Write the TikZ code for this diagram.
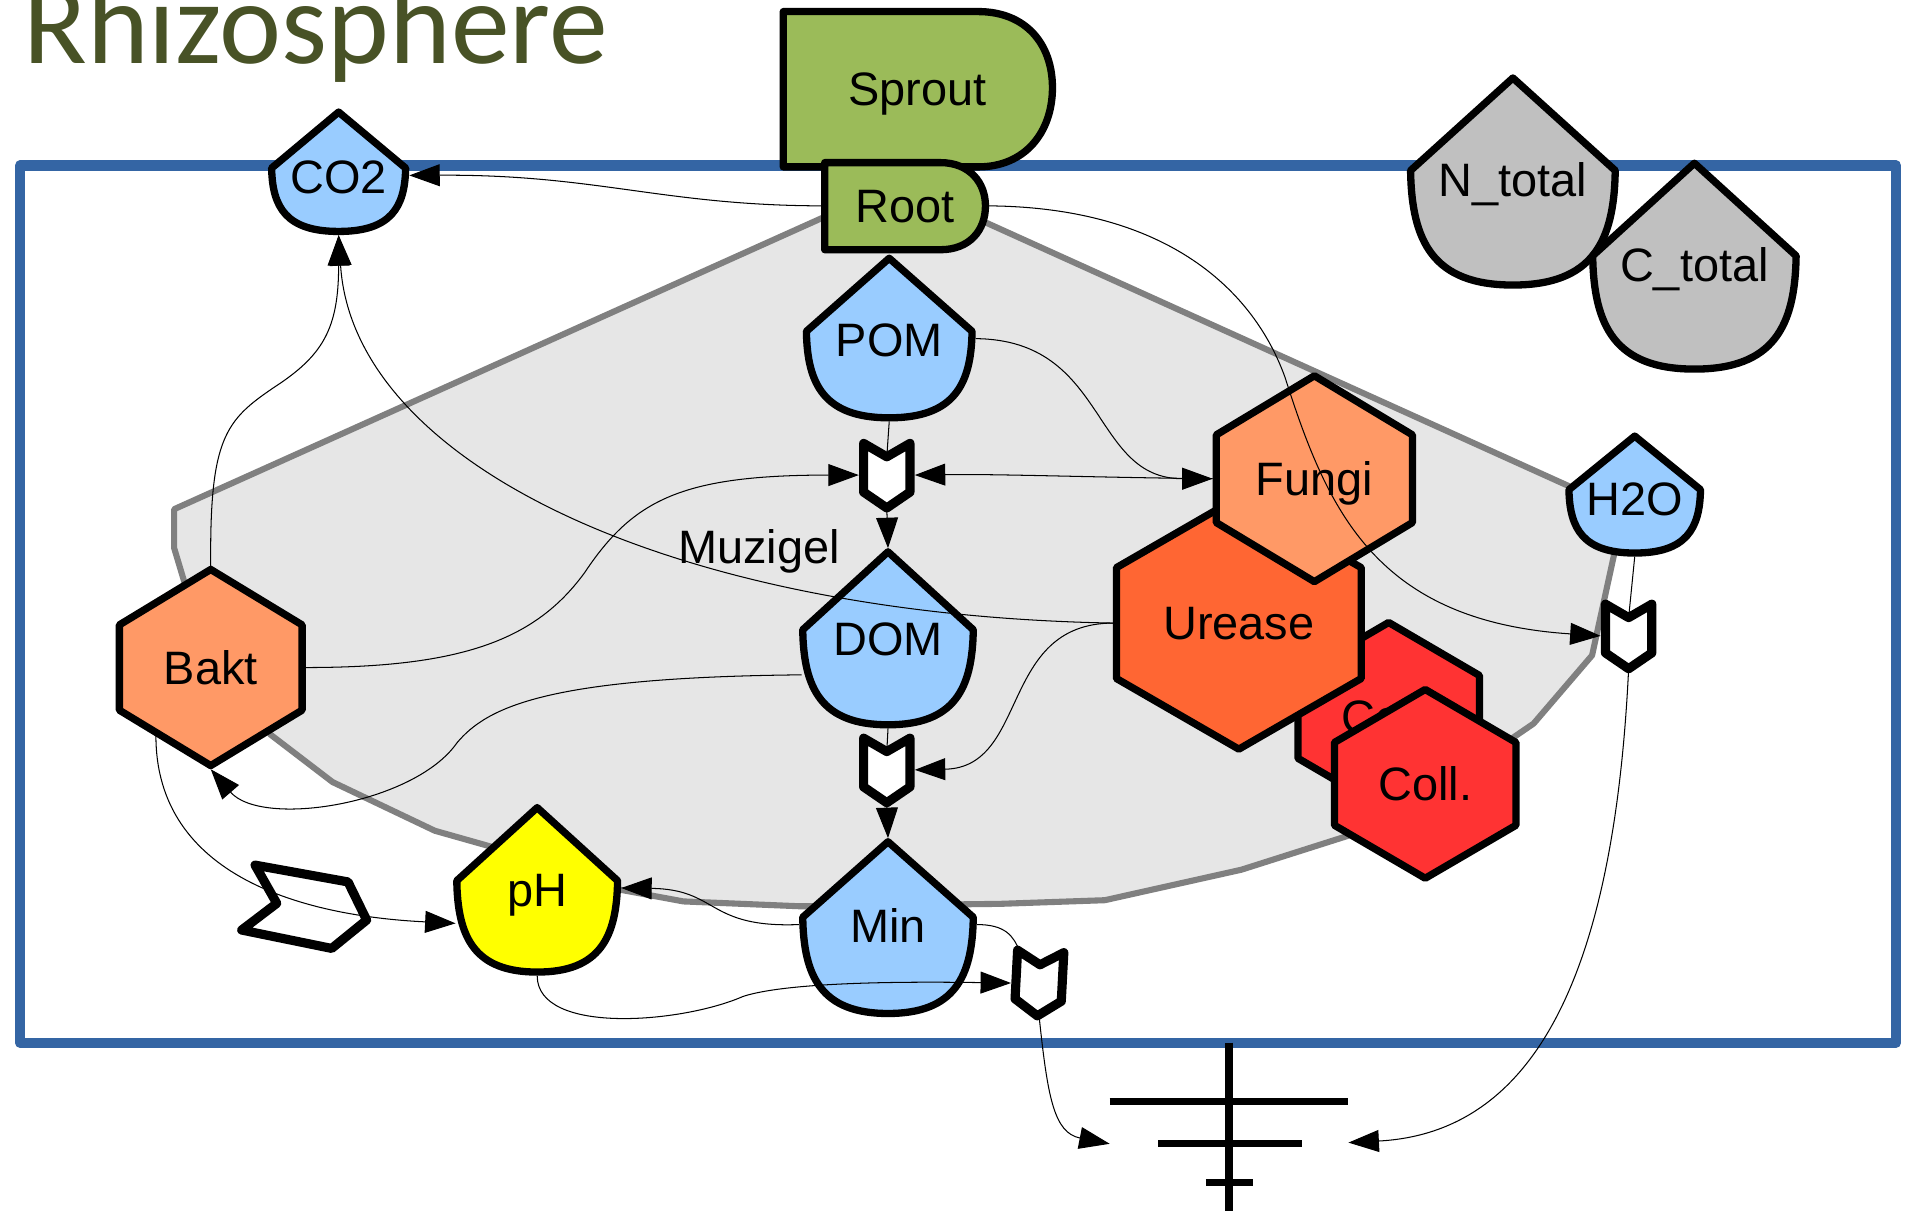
\documentclass[tikz,border=0pt]{standalone}
\usepackage{fontspec}
\setmainfont{Liberation Sans}
\newfontfamily\titlefont{Carlito}
\usetikzlibrary{arrows.meta,calc}
\definecolor{framecol}{HTML}{3465A4}
\definecolor{polyfill}{HTML}{E6E6E6}
\definecolor{polyline}{HTML}{808080}
\definecolor{lblue}{HTML}{99CCFF}
\definecolor{lgrey}{HTML}{C0C0C0}
\definecolor{lorange}{HTML}{FF9966}
\definecolor{dorange}{HTML}{FF6633}
\definecolor{lred}{HTML}{FF3333}
\definecolor{yel}{HTML}{FFFF00}
\definecolor{grn}{HTML}{9BBB59}
\definecolor{titlecol}{HTML}{485226}
\newcommand{\lblfont}{\fontsize{38.5}{46}\selectfont}
\tikzset{
  shapeline/.style={draw=black, line width=6pt, line join=round},
  lbl/.style={font=\lblfont, inner sep=0pt, anchor=base},
  conn/.style={draw=black, line width=0.85pt},
  arr/.style={-{Triangle[length=25pt,width=18pt]}},
  valveline/.style={draw=black, line width=7.5pt, fill=white, line join=round},
}
% drop: cx, shoulder y, half width, top height, bottom height, fill, name, text
\newcommand{\dropshape}[8]{%
  \draw[shapeline, fill=#6] ({#1},{#2-#4}) -- ({#1+#3},{#2})
    .. controls ({#1+0.99*#3},{#2+0.62*#5}) and ({#1+0.78*#3},{#2+#5}) .. ({#1},{#2+#5})
    .. controls ({#1-0.78*#3},{#2+#5}) and ({#1-0.99*#3},{#2+0.62*#5}) .. ({#1-#3},{#2}) -- cycle;
  \coordinate (#7-c) at ({#1},{#2});
  \coordinate (#7-n) at ({#1},{#2-#4-3});
  \coordinate (#7-s) at ({#1},{#2+#5+3});
  \coordinate (#7-e) at ({#1+#3+3},{#2+6});
  \coordinate (#7-w) at ({#1-#3-3},{#2+6});
  \node[lbl] (#7) at ({#1},{#2+21}) {#8};
}
% hexagon: cx, cy, half width, half height, half side, fill, name, text
\newcommand{\hexshape}[8]{%
  \draw[shapeline, fill=#6] ({#1},{#2-#4}) -- ({#1+#3},{#2-#5}) -- ({#1+#3},{#2+#5})
    -- ({#1},{#2+#4}) -- ({#1-#3},{#2+#5}) -- ({#1-#3},{#2-#5}) -- cycle;
  \coordinate (#7-c) at ({#1},{#2});
  \coordinate (#7-n) at ({#1},{#2-#4-3});
  \coordinate (#7-s) at ({#1},{#2+#4+3});
  \coordinate (#7-e) at ({#1+#3+3},{#2});
  \coordinate (#7-w) at ({#1-#3-3},{#2});
  \node[lbl] (#7) at ({#1},{#2+13.8}) {#8};
}
% valve: cx, cy, rotation
\newcommand{\valveshape}[3]{%
  \begin{scope}[shift={(#1,#2)}, rotate=#3]
    \draw[valveline] (-19,-26) -- (0,-15) -- (19,-26) -- (19,14) -- (0,27) -- (-19,14) -- cycle;
  \end{scope}
}
\newcommand{\valvecoords}[3]{%
  \coordinate (#3-c) at ({#1},{#2});
  \coordinate (#3-n) at ({#1},{#2-15});
  \coordinate (#3-s) at ({#1},{#2+27});
  \coordinate (#3-e) at ({#1+23},{#2});
  \coordinate (#3-w) at ({#1-23},{#2});
}
\begin{document}
\begin{tikzpicture}[x=1pt,y=-1pt]
\useasboundingbox (0,0) rectangle (1568,1004);
\clip (0,0) rectangle (1568,1004);
\fill[white] (0,0) rectangle (1568,1004);

% title
\node[anchor=base west, inner sep=0pt, text=titlecol, font=\titlefont\fontsize{96.5}{100}\selectfont] (title) at (19,52) {Rhizosphere};

% frame
\draw[framecol, line width=8.5pt, line join=round] (16.5,136) rectangle (1556.5,856);

% Muzigel region
\draw[line width=5pt, draw=polyline, fill=polyfill, line join=round]
  (677,178) -- (143,418) -- (143,450) -- (152,480) -- (222,603) -- (273,642) -- (357,682)
  -- (403,695) -- (507,730) -- (561,740) -- (657,744) -- (821,742) -- (907,739) -- (1019,714)
  -- (1107,686) -- (1240,607) -- (1259,594) -- (1307,538) -- (1326,451) -- (1290,400)
  -- (810,183) -- cycle;

% Sprout and Root
\draw[shapeline, fill=grn] (643,9.5) -- (803,9.5) .. controls (842,9.5) and (864,36) .. (864,72)
  .. controls (864,108) and (842,137) .. (803,137) -- (643,137) -- cycle;
\node[lbl] (Sprout) at (753,86.8) {Sprout};
\draw[shapeline, fill=grn] (677,133.5) -- (772,133.5) .. controls (796,133.5) and (809,150) .. (809,169)
  .. controls (809,189) and (796,205) .. (772,205) -- (677,205) -- cycle;
\node[lbl] (Root) at (743,182.8) {Root};
\coordinate (Root-w) at (677,169);
\coordinate (Root-e) at (811,169);

% drops
\dropshape{278}{138}{55}{46}{52}{lblue}{CO2}{CO2}
\dropshape{1242}{140}{84}{76}{94}{lgrey}{Ntot}{N\_total}
\dropshape{1391}{210}{83.5}{76}{93}{lgrey}{Ctot}{C\_total}
\dropshape{730}{272}{68}{60}{71}{lblue}{POM}{POM}
\dropshape{729}{517}{70}{64}{78}{lblue}{DOM}{DOM}
\dropshape{729}{753}{70}{62}{79}{lblue}{Min}{Min}
\dropshape{441}{723}{66}{60}{75}{yel}{pH}{pH}
\dropshape{1342}{402}{54}{44}{52}{lblue}{H2O}{H2O}

% hexagons
\hexshape{173}{548}{75}{80.5}{35}{lorange}{Bakt}{Bakt}
\hexshape{1140}{588.5}{74.5}{77.5}{34}{lred}{CollB}{Coll.}
\hexshape{1017}{511.5}{100.5}{103.5}{45.5}{dorange}{Urease}{Urease}
\hexshape{1079}{393}{80.5}{84.5}{36}{lorange}{Fungi}{Fungi}
\hexshape{1170}{643.5}{74.5}{77.5}{34}{lred}{Coll}{Coll.}

% source symbol
\draw[line width=7.5pt, line join=round] (209.4,710.2) -- (285.7,724) -- (301,755.3) -- (272.3,778.6)
  -- (198.4,763.5) -- (227.2,741.6) -- cycle;

% ground symbol
\draw[line width=6pt] (1009,856) -- (1009,994);
\draw[line width=6pt] (911,904) -- (1107,904);
\draw[line width=6pt] (951,939) -- (1069,939);
\draw[line width=6pt] (990,971) -- (1029,971);
\coordinate (gnd-l) at (911,939);
\coordinate (gnd-r) at (1107,938);

\node[lbl] (Muzigel) at (623,462.8) {Muzigel};

% valve coordinates
\valvecoords{728}{390}{V1}
\valvecoords{728}{632}{V2}
\valvecoords{853}{807}{V3}
\valvecoords{1337}{522}{V4}

% extra anchor points
\coordinate (DOM-lw) at ($(DOM-c)+(-71,37)$);
\coordinate (Bakt-sw) at ($(Bakt-c)+(-45,56)$);
\coordinate (pH-lw) at ($(pH-c)+(-67,35)$);
\coordinate (V3-nw) at ($(V3-c)+(-16,-26)$);

% connectors
\draw[conn,arr] (Root-w) .. controls (545,169) and (490,143) .. (CO2-e);
\draw[conn,arr] (Root-e) .. controls (960,170) and (1030,240) .. (1055,310)
  .. controls (1090,420) and (1130,510) .. (V4-w);
\draw[conn,arr] (POM-e) .. controls (910,279) and (895,393) .. (Fungi-w);
\draw[conn,arr] (Fungi-w) .. controls (900,392) and (820,389) .. (V1-e);
\draw[conn,arr] (Bakt-e) .. controls (380,548) and (440,525) .. (480,470)
  .. controls (520,410) and (560,390) .. (V1-w);
\draw[conn] (POM-s) -- (V1-n);
\draw[conn,arr] (V1-s) -- (DOM-n);
\draw[conn] (DOM-s) -- (V2-n);
\draw[conn,arr] (V2-s) -- (Min-n);
\draw[conn,arr] (Urease-w) .. controls (820,512) and (845,630) .. (V2-e);
\draw[conn,arr] (Urease-w) .. controls (550,505) and (290,380) .. (CO2-s);
\draw[conn,arr] (Bakt-n) .. controls (172,360) and (185,345) .. (225,318)
  .. controls (265,292) and (278,270) .. (CO2-s);
\draw[conn,arr] (DOM-lw) .. controls (450,556) and (400,580) .. (375,610)
  .. controls (340,660) and (215,680) .. (Bakt-s);
\draw[conn,arr] (Bakt-sw) .. controls (128,720) and (250,752) .. (pH-lw);
\draw[conn,arr] (Min-w) .. controls (580,762) and (590,730) .. (pH-e);
\draw[conn,arr] (pH-s) .. controls (441,850) and (560,840) .. (610,818)
  .. controls (650,805) and (760,806) .. (V3-w);
\draw[conn] (Min-e) .. controls (825,759) and (832,768) .. (V3-nw);
\draw[conn,arr] (V3-s) .. controls (860,900) and (865,930) .. (gnd-l);
\draw[conn,arr] (V4-s) .. controls (1325,800) and (1260,930) .. (gnd-r);
\draw[conn] (H2O-s) -- (V4-n);

% valves
\valveshape{728}{390}{0}
\valveshape{728}{632}{0}
\valveshape{853}{807}{-3}
\valveshape{1337}{522}{0}
\end{tikzpicture}
\end{document}
